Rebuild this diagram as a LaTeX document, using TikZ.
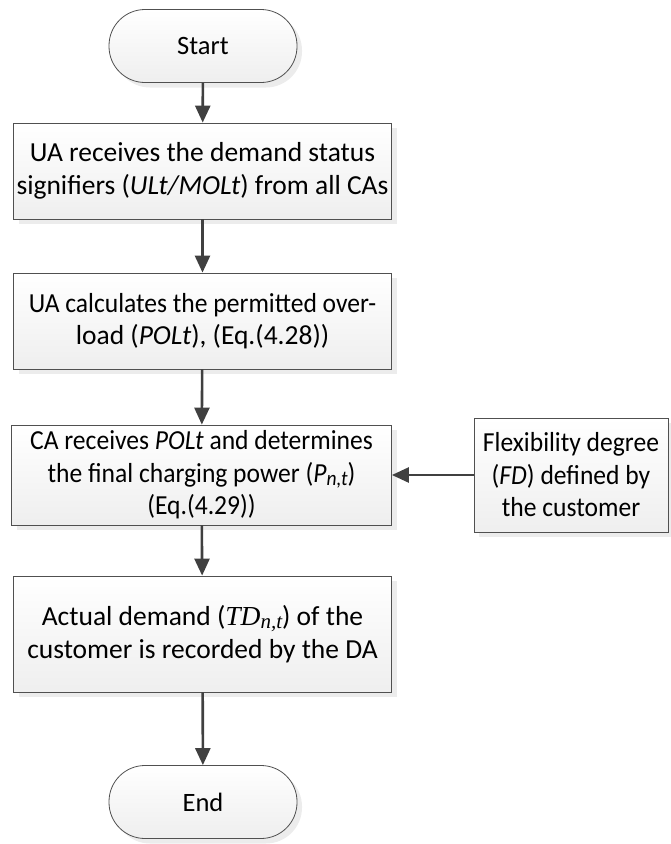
\documentclass[tikz,border=0pt]{standalone}
\usepackage{fontspec}
\setmainfont{Carlito}
\newfontfamily\narrowfont[FakeStretch=0.93]{Carlito}
\newfontfamily\serifit{Liberation Serif}
\usepackage{xcolor}
\usepackage{tikz}
\usetikzlibrary{positioning, arrows.meta, shadows}
\definecolor{linegray}{HTML}{404040}
\definecolor{edgegray}{HTML}{505050}
\newcommand{\lowsub}[1]{\raisebox{-0.25ex}{\fontsize{21}{21}\selectfont #1}}

\tikzset{
  proc/.style={draw=edgegray, line width=0.8pt, top color=white, bottom color=gray!13,
               drop shadow={shadow xshift=5pt, shadow yshift=-5pt, fill=gray!30},
               align=center, inner sep=0pt, font=\fontsize{27.5}{32.5}\selectfont},
  term/.style={proc, rounded corners=36pt, minimum width=188pt, minimum height=73pt,
               font=\fontsize{26.5}{32.5}\selectfont}
}

\begin{document}
\begin{tikzpicture}[x=1pt, y=-1pt, >={Triangle[length=17pt,width=15pt]},
                    every edge/.style={draw=linegray, line width=2.6pt, ->}]
    \useasboundingbox (0,0) rectangle (670,844);
    \node[term] (start) at (203,46) {Start};
    \node[proc, minimum width=378pt, minimum height=96pt] (recv) at (202.5,171)
      {UA receives the demand status\\signifiers (\textit{ULt/MOLt}) from all CAs};
    \node[proc, minimum width=378pt, minimum height=96pt] (calc) at (202.5,321)
      {\narrowfont UA calculates the permitted over-\\load (\textit{POLt}), (Eq.(4.28))};
    \node[proc, minimum width=380pt, minimum height=100pt] (ca) at (201.5,475)
      {\narrowfont CA receives \textit{POLt} and determines\\
       \narrowfont the final charging power (\textit{P\lowsub{n,t}})\\
       \narrowfont (Eq.(4.29))};
    \node[proc, minimum width=194pt, minimum height=114pt] (fd) at (571,475)
      {\narrowfont Flexibility degree\\
       \narrowfont (\textit{FD}) defined by\\
       \narrowfont the customer};
    \node[proc, minimum width=378pt, minimum height=116pt] (rec) at (202.5,634)
      {Actual demand ({\serifit\itshape TD\lowsub{n,t}}) of the\\customer is recorded by the DA};
    \node[term] (stop) at (203,802) {End};
    \path
      (start) edge (recv)
      (recv) edge (calc)
      (calc) edge (ca)
      (fd) edge (ca)
      (ca) edge (rec)
      (rec) edge (stop);
\end{tikzpicture}
\end{document}
